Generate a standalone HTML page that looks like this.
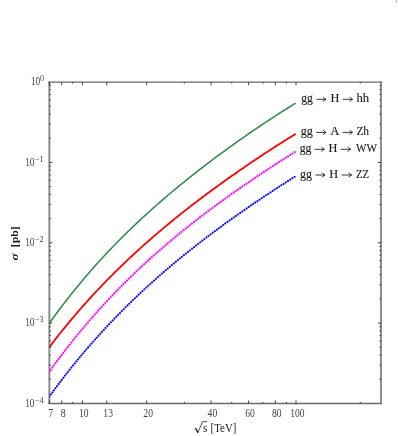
<!DOCTYPE html><html><head><meta charset="utf-8"><style>html,body{margin:0;padding:0;background:#fff}body{width:398px;height:436px;overflow:hidden;font-family:"Liberation Serif",serif}</style></head><body><svg width="398" height="436" viewBox="0 0 398 436" style="display:block;will-change:transform">
<rect width="398" height="436" fill="#fff"/>
<defs><clipPath id="cp"><rect x="49.35" y="82.1" width="331.65" height="321.35"/></clipPath></defs>
<path d="M49.35,81.45 V404.10 M381.0,81.45 V404.10" fill="none" stroke="#888" stroke-width="1.9"/>
<path d="M48.40,82.1 H381.95 M48.40,403.45 H381.95" fill="none" stroke="#6a6a6a" stroke-width="1.35"/>
<path d="M49.35,323.20 L51.42,320.31 L53.49,317.45 L55.56,314.63 L57.63,311.83 L59.70,309.06 L61.77,306.33 L63.84,303.62 L65.91,300.94 L67.98,298.28 L70.05,295.66 L72.12,293.06 L74.19,290.49 L76.26,287.94 L78.33,285.42 L80.40,282.92 L82.47,280.45 L84.54,278.00 L86.61,275.58 L88.68,273.18 L90.75,270.80 L92.82,268.45 L94.89,266.12 L96.96,263.80 L99.03,261.52 L101.10,259.25 L103.17,257.00 L105.24,254.77 L107.31,252.57 L109.38,250.38 L111.46,248.21 L113.53,246.06 L115.60,243.93 L117.67,241.82 L119.74,239.72 L121.81,237.64 L123.88,235.58 L125.95,233.54 L128.02,231.51 L130.09,229.50 L132.16,227.51 L134.23,225.53 L136.30,223.57 L138.37,221.62 L140.44,219.69 L142.51,217.77 L144.58,215.86 L146.65,213.97 L148.72,212.09 L150.79,210.23 L152.86,208.38 L154.93,206.54 L157.00,204.72 L159.07,202.91 L161.14,201.11 L163.21,199.32 L165.28,197.54 L167.35,195.78 L169.42,194.02 L171.49,192.28 L173.56,190.55 L175.63,188.83 L177.70,187.12 L179.77,185.42 L181.84,183.73 L183.91,182.05 L185.98,180.38 L188.05,178.72 L190.12,177.07 L192.19,175.43 L194.26,173.80 L196.33,172.18 L198.40,170.56 L200.47,168.96 L202.54,167.36 L204.61,165.77 L206.68,164.19 L208.75,162.62 L210.82,161.06 L212.89,159.50 L214.96,157.95 L217.03,156.41 L219.10,154.88 L221.17,153.35 L223.24,151.84 L225.31,150.33 L227.38,148.82 L229.45,147.33 L231.52,145.84 L233.59,144.36 L235.67,142.89 L237.74,141.42 L239.81,139.96 L241.88,138.51 L243.95,137.06 L246.02,135.62 L248.09,134.19 L250.16,132.76 L252.23,131.34 L254.30,129.93 L256.37,128.53 L258.44,127.13 L260.51,125.74 L262.58,124.35 L264.65,122.97 L266.72,121.60 L268.79,120.24 L270.86,118.88 L272.93,117.53 L275.00,116.19 L277.07,114.85 L279.14,113.52 L281.21,112.20 L283.28,110.88 L285.35,109.57 L287.42,108.27 L289.49,106.98 L291.56,105.69 L293.63,104.42 L295.70,103.14" fill="none" stroke="#2f8b45" stroke-width="1.55" clip-path="url(#cp)"/>
<path d="M49.35,347.10 L51.42,344.39 L53.49,341.70 L55.56,339.04 L57.63,336.41 L59.70,333.80 L61.77,331.21 L63.84,328.65 L65.91,326.12 L67.98,323.61 L70.05,321.12 L72.12,318.65 L74.19,316.21 L76.26,313.79 L78.33,311.39 L80.40,309.02 L82.47,306.66 L84.54,304.33 L86.61,302.01 L88.68,299.72 L90.75,297.45 L92.82,295.19 L94.89,292.96 L96.96,290.75 L99.03,288.55 L101.10,286.37 L103.17,284.21 L105.24,282.07 L107.31,279.95 L109.38,277.85 L111.46,275.76 L113.53,273.69 L115.60,271.63 L117.67,269.59 L119.74,267.57 L121.81,265.56 L123.88,263.57 L125.95,261.59 L128.02,259.63 L130.09,257.69 L132.16,255.76 L134.23,253.84 L136.30,251.93 L138.37,250.04 L140.44,248.17 L142.51,246.30 L144.58,244.45 L146.65,242.62 L148.72,240.79 L150.79,238.98 L152.86,237.18 L154.93,235.39 L157.00,233.62 L159.07,231.85 L161.14,230.10 L163.21,228.36 L165.28,226.63 L167.35,224.91 L169.42,223.20 L171.49,221.50 L173.56,219.81 L175.63,218.13 L177.70,216.46 L179.77,214.81 L181.84,213.16 L183.91,211.52 L185.98,209.89 L188.05,208.27 L190.12,206.65 L192.19,205.05 L194.26,203.45 L196.33,201.87 L198.40,200.29 L200.47,198.72 L202.54,197.16 L204.61,195.61 L206.68,194.06 L208.75,192.52 L210.82,190.99 L212.89,189.47 L214.96,187.95 L217.03,186.45 L219.10,184.95 L221.17,183.45 L223.24,181.97 L225.31,180.49 L227.38,179.01 L229.45,177.55 L231.52,176.09 L233.59,174.64 L235.67,173.19 L237.74,171.75 L239.81,170.32 L241.88,168.89 L243.95,167.47 L246.02,166.05 L248.09,164.65 L250.16,163.24 L252.23,161.85 L254.30,160.46 L256.37,159.07 L258.44,157.70 L260.51,156.32 L262.58,154.96 L264.65,153.60 L266.72,152.24 L268.79,150.89 L270.86,149.55 L272.93,148.21 L275.00,146.88 L277.07,145.55 L279.14,144.23 L281.21,142.92 L283.28,141.61 L285.35,140.31 L287.42,139.01 L289.49,137.72 L291.56,136.43 L293.63,135.15 L295.70,133.88" fill="none" stroke="#ff0000" stroke-width="1.8" clip-path="url(#cp)"/>
<path d="M49.35,371.67 L51.42,368.79 L53.49,365.93 L55.56,363.11 L57.63,360.31 L59.70,357.54 L61.77,354.80 L63.84,352.09 L65.91,349.40 L67.98,346.74 L70.05,344.11 L72.12,341.50 L74.19,338.91 L76.26,336.35 L78.33,333.82 L80.40,331.31 L82.47,328.82 L84.54,326.36 L86.61,323.92 L88.68,321.50 L90.75,319.11 L92.82,316.73 L94.89,314.38 L96.96,312.05 L99.03,309.75 L101.10,307.46 L103.17,305.19 L105.24,302.95 L107.31,300.72 L109.38,298.52 L111.46,296.33 L113.53,294.16 L115.60,292.01 L117.67,289.88 L119.74,287.77 L121.81,285.68 L123.88,283.60 L125.95,281.54 L128.02,279.50 L130.09,277.47 L132.16,275.47 L134.23,273.47 L136.30,271.50 L138.37,269.54 L140.44,267.59 L142.51,265.66 L144.58,263.75 L146.65,261.85 L148.72,259.97 L150.79,258.10 L152.86,256.24 L154.93,254.40 L157.00,252.57 L159.07,250.75 L161.14,248.95 L163.21,247.16 L165.28,245.38 L167.35,243.62 L169.42,241.87 L171.49,240.13 L173.56,238.40 L175.63,236.68 L177.70,234.98 L179.77,233.28 L181.84,231.60 L183.91,229.93 L185.98,228.26 L188.05,226.61 L190.12,224.97 L192.19,223.34 L194.26,221.72 L196.33,220.11 L198.40,218.51 L200.47,216.92 L202.54,215.33 L204.61,213.76 L206.68,212.19 L208.75,210.64 L210.82,209.09 L212.89,207.55 L214.96,206.02 L217.03,204.50 L219.10,202.98 L221.17,201.47 L223.24,199.97 L225.31,198.48 L227.38,197.00 L229.45,195.52 L231.52,194.05 L233.59,192.59 L235.67,191.13 L237.74,189.68 L239.81,188.24 L241.88,186.80 L243.95,185.37 L246.02,183.95 L248.09,182.53 L250.16,181.12 L252.23,179.72 L254.30,178.32 L256.37,176.92 L258.44,175.54 L260.51,174.15 L262.58,172.78 L264.65,171.41 L266.72,170.04 L268.79,168.68 L270.86,167.33 L272.93,165.98 L275.00,164.64 L277.07,163.30 L279.14,161.96 L281.21,160.63 L283.28,159.31 L285.35,157.99 L287.42,156.68 L289.49,155.37 L291.56,154.06 L293.63,152.76 L295.70,151.47" fill="none" stroke="#ff00ff" stroke-width="2.15" stroke-dasharray="0.01 2.6" stroke-linecap="round" clip-path="url(#cp)"/>
<path d="M49.35,396.59 L51.42,393.74 L53.49,390.91 L55.56,388.11 L57.63,385.34 L59.70,382.60 L61.77,379.88 L63.84,377.19 L65.91,374.52 L67.98,371.88 L70.05,369.27 L72.12,366.68 L74.19,364.11 L76.26,361.57 L78.33,359.05 L80.40,356.55 L82.47,354.08 L84.54,351.63 L86.61,349.20 L88.68,346.80 L90.75,344.41 L92.82,342.05 L94.89,339.71 L96.96,337.39 L99.03,335.09 L101.10,332.81 L103.17,330.55 L105.24,328.31 L107.31,326.09 L109.38,323.89 L111.46,321.70 L113.53,319.54 L115.60,317.39 L117.67,315.26 L119.74,313.15 L121.81,311.06 L123.88,308.98 L125.95,306.92 L128.02,304.88 L130.09,302.86 L132.16,300.85 L134.23,298.85 L136.30,296.87 L138.37,294.91 L140.44,292.96 L142.51,291.03 L144.58,289.11 L146.65,287.20 L148.72,285.31 L150.79,283.44 L152.86,281.57 L154.93,279.73 L157.00,277.89 L159.07,276.07 L161.14,274.26 L163.21,272.46 L165.28,270.67 L167.35,268.90 L169.42,267.14 L171.49,265.39 L173.56,263.66 L175.63,261.93 L177.70,260.21 L179.77,258.51 L181.84,256.82 L183.91,255.14 L185.98,253.46 L188.05,251.80 L190.12,250.15 L192.19,248.51 L194.26,246.88 L196.33,245.26 L198.40,243.64 L200.47,242.04 L202.54,240.44 L204.61,238.86 L206.68,237.28 L208.75,235.71 L210.82,234.16 L212.89,232.60 L214.96,231.06 L217.03,229.53 L219.10,228.00 L221.17,226.48 L223.24,224.97 L225.31,223.46 L227.38,221.97 L229.45,220.48 L231.52,219.00 L233.59,217.52 L235.67,216.05 L237.74,214.59 L239.81,213.14 L241.88,211.69 L243.95,210.25 L246.02,208.81 L248.09,207.38 L250.16,205.96 L252.23,204.55 L254.30,203.13 L256.37,201.73 L258.44,200.33 L260.51,198.94 L262.58,197.55 L264.65,196.17 L266.72,194.79 L268.79,193.42 L270.86,192.06 L272.93,190.70 L275.00,189.34 L277.07,187.99 L279.14,186.65 L281.21,185.31 L283.28,183.98 L285.35,182.65 L287.42,181.32 L289.49,180.01 L291.56,178.69 L293.63,177.38 L295.70,176.08" fill="none" stroke="#0a0aff" stroke-width="2.15" stroke-dasharray="0.01 2.6" stroke-linecap="round" clip-path="url(#cp)"/>
<path d="M49.35,403.45 v-3.0 M49.35,82.1 v3.0 M61.74,403.45 v-3.0 M61.74,82.1 v3.0 M82.43,403.45 v-3.0 M82.43,82.1 v3.0 M106.77,403.45 v-3.0 M106.77,82.1 v3.0 M146.73,403.45 v-3.0 M146.73,82.1 v3.0 M211.02,403.45 v-3.0 M211.02,82.1 v3.0 M248.63,403.45 v-3.0 M248.63,82.1 v3.0 M275.31,403.45 v-3.0 M275.31,82.1 v3.0 M296.01,403.45 v-3.0 M296.01,82.1 v3.0 M72.66,403.45 v-1.5 M72.66,82.1 v1.5 M184.34,403.45 v-1.5 M184.34,82.1 v1.5 M231.72,403.45 v-1.5 M231.72,82.1 v1.5 M262.93,403.45 v-1.5 M262.93,82.1 v1.5 M286.24,403.45 v-1.5 M286.24,82.1 v1.5 M360.30,403.45 v-1.5 M360.30,82.1 v1.5 M49.35,138.25 h1.5 M381.0,138.25 h-1.5 M49.35,124.11 h1.5 M381.0,124.11 h-1.5 M49.35,114.07 h1.5 M381.0,114.07 h-1.5 M49.35,106.28 h1.5 M381.0,106.28 h-1.5 M49.35,99.92 h1.5 M381.0,99.92 h-1.5 M49.35,94.54 h1.5 M381.0,94.54 h-1.5 M49.35,89.89 h1.5 M381.0,89.89 h-1.5 M49.35,85.78 h1.5 M381.0,85.78 h-1.5 M49.35,162.44 h3.0 M381.0,162.44 h-3.0 M49.35,218.59 h1.5 M381.0,218.59 h-1.5 M49.35,204.44 h1.5 M381.0,204.44 h-1.5 M49.35,194.41 h1.5 M381.0,194.41 h-1.5 M49.35,186.62 h1.5 M381.0,186.62 h-1.5 M49.35,180.26 h1.5 M381.0,180.26 h-1.5 M49.35,174.88 h1.5 M381.0,174.88 h-1.5 M49.35,170.22 h1.5 M381.0,170.22 h-1.5 M49.35,166.11 h1.5 M381.0,166.11 h-1.5 M49.35,242.78 h3.0 M381.0,242.78 h-3.0 M49.35,298.93 h1.5 M381.0,298.93 h-1.5 M49.35,284.78 h1.5 M381.0,284.78 h-1.5 M49.35,274.74 h1.5 M381.0,274.74 h-1.5 M49.35,266.96 h1.5 M381.0,266.96 h-1.5 M49.35,260.60 h1.5 M381.0,260.60 h-1.5 M49.35,255.22 h1.5 M381.0,255.22 h-1.5 M49.35,250.56 h1.5 M381.0,250.56 h-1.5 M49.35,246.45 h1.5 M381.0,246.45 h-1.5 M49.35,323.11 h3.0 M381.0,323.11 h-3.0 M49.35,379.27 h1.5 M381.0,379.27 h-1.5 M49.35,365.12 h1.5 M381.0,365.12 h-1.5 M49.35,355.08 h1.5 M381.0,355.08 h-1.5 M49.35,347.30 h1.5 M381.0,347.30 h-1.5 M49.35,340.94 h1.5 M381.0,340.94 h-1.5 M49.35,335.56 h1.5 M381.0,335.56 h-1.5 M49.35,330.90 h1.5 M381.0,330.90 h-1.5 M49.35,326.79 h1.5 M381.0,326.79 h-1.5" fill="none" stroke="#2a2a2a" stroke-width="0.9"/>
<g font-family="'Liberation Serif', serif">
<text x="48.30" y="417.4" font-size="12" fill="#444" textLength="4.9" lengthAdjust="spacingAndGlyphs">7</text>
<text x="60.69" y="417.4" font-size="12" fill="#444" textLength="4.9" lengthAdjust="spacingAndGlyphs">8</text>
<text x="79.03" y="417.4" font-size="12" fill="#444" textLength="9.6" lengthAdjust="spacingAndGlyphs">10</text>
<text x="103.37" y="417.4" font-size="12" fill="#444" textLength="9.6" lengthAdjust="spacingAndGlyphs">13</text>
<text x="143.33" y="417.4" font-size="12" fill="#444" textLength="9.6" lengthAdjust="spacingAndGlyphs">20</text>
<text x="207.62" y="417.4" font-size="12" fill="#444" textLength="9.6" lengthAdjust="spacingAndGlyphs">40</text>
<text x="245.23" y="417.4" font-size="12" fill="#444" textLength="9.6" lengthAdjust="spacingAndGlyphs">60</text>
<text x="271.91" y="417.4" font-size="12" fill="#444" textLength="9.6" lengthAdjust="spacingAndGlyphs">80</text>
<text x="290.26" y="417.4" font-size="12" fill="#444" textLength="14.3" lengthAdjust="spacingAndGlyphs">100</text>
<text x="30.9" y="85.40" font-size="12.3" fill="#444" textLength="9.3" lengthAdjust="spacingAndGlyphs">10</text>
<text x="40.0" y="81.30" font-size="8.5" fill="#444" textLength="4.0" lengthAdjust="spacingAndGlyphs">0</text>
<text x="25.2" y="165.74" font-size="12.3" fill="#444" textLength="9.3" lengthAdjust="spacingAndGlyphs">10</text>
<text x="35.0" y="161.64" font-size="8.5" fill="#444" textLength="8.6" lengthAdjust="spacingAndGlyphs">−1</text>
<text x="25.2" y="246.08" font-size="12.3" fill="#444" textLength="9.3" lengthAdjust="spacingAndGlyphs">10</text>
<text x="35.0" y="241.97" font-size="8.5" fill="#444" textLength="8.6" lengthAdjust="spacingAndGlyphs">−2</text>
<text x="25.2" y="326.41" font-size="12.3" fill="#444" textLength="9.3" lengthAdjust="spacingAndGlyphs">10</text>
<text x="35.0" y="322.31" font-size="8.5" fill="#444" textLength="8.6" lengthAdjust="spacingAndGlyphs">−3</text>
<text x="25.2" y="406.75" font-size="12.3" fill="#444" textLength="9.3" lengthAdjust="spacingAndGlyphs">10</text>
<text x="35.0" y="402.65" font-size="8.5" fill="#444" textLength="8.6" lengthAdjust="spacingAndGlyphs">−4</text>
<path d="M194.7,429.1 L195.9,428.3 L197.9,432.6 L202.5,421.7 H207.2" fill="none" stroke="#222" stroke-width="0.8" stroke-linejoin="miter"/>
<path d="M195.8,428.5 L197.8,432.8" fill="none" stroke="#222" stroke-width="1.3"/>
<text x="202.9" y="431.9" font-size="12.3" fill="#222" textLength="4.4" lengthAdjust="spacingAndGlyphs">s</text>
<text x="210.6" y="431.9" font-size="12.3" fill="#222" textLength="25.8" lengthAdjust="spacingAndGlyphs">[TeV]</text>
<text transform="translate(18.2,260.4) rotate(-90)" font-size="10.5" fill="#1a1a1a" font-weight="bold" font-style="italic" textLength="7.2" lengthAdjust="spacingAndGlyphs">σ</text>
<text transform="translate(17.9,247.2) rotate(-90)" font-size="11.4" fill="#1a1a1a" font-weight="bold" textLength="21" lengthAdjust="spacingAndGlyphs">[pb]</text>
<text x="301.30" y="102.1" font-size="11.5" fill="#222" stroke="#222" stroke-width="0.12" textLength="11.50" lengthAdjust="spacingAndGlyphs">gg</text>
<path d="M316.50,99.3 H325.80 M323.10,96.90 Q324.10,98.80 326.10,99.3 Q324.10,99.80 323.10,101.70" fill="none" stroke="#222" stroke-width="0.9"/>
<text x="330.40" y="102.1" font-size="11.5" fill="#222" stroke="#222" stroke-width="0.12" textLength="8.90" lengthAdjust="spacingAndGlyphs">H</text>
<path d="M342.60,99.3 H352.40 M349.70,96.90 Q350.70,98.80 352.70,99.3 Q350.70,99.80 349.70,101.70" fill="none" stroke="#222" stroke-width="0.9"/>
<text x="356.40" y="102.1" font-size="11.5" fill="#222" stroke="#222" stroke-width="0.12" textLength="12.70" lengthAdjust="spacingAndGlyphs">hh</text>
<text x="300.70" y="135.1" font-size="11.5" fill="#222" stroke="#222" stroke-width="0.12" textLength="12.10" lengthAdjust="spacingAndGlyphs">gg</text>
<path d="M316.10,132.4 H325.80 M323.10,130.00 Q324.10,131.90 326.10,132.4 Q324.10,132.90 323.10,134.80" fill="none" stroke="#222" stroke-width="0.9"/>
<text x="330.30" y="135.1" font-size="11.5" fill="#222" stroke="#222" stroke-width="0.12" textLength="9.20" lengthAdjust="spacingAndGlyphs">A</text>
<path d="M342.60,132.4 H352.40 M349.70,130.00 Q350.70,131.90 352.70,132.4 Q350.70,132.90 349.70,134.80" fill="none" stroke="#222" stroke-width="0.9"/>
<text x="356.40" y="135.1" font-size="11.5" fill="#222" stroke="#222" stroke-width="0.12" textLength="12.70" lengthAdjust="spacingAndGlyphs">Zh</text>
<text x="299.70" y="152.1" font-size="11.5" fill="#222" stroke="#222" stroke-width="0.12" textLength="11.70" lengthAdjust="spacingAndGlyphs">gg</text>
<path d="M314.70,149.3 H324.20 M321.50,146.90 Q322.50,148.80 324.50,149.3 Q322.50,149.80 321.50,151.70" fill="none" stroke="#222" stroke-width="0.9"/>
<text x="328.60" y="152.1" font-size="11.5" fill="#222" stroke="#222" stroke-width="0.12" textLength="8.90" lengthAdjust="spacingAndGlyphs">H</text>
<path d="M340.60,149.3 H350.40 M347.70,146.90 Q348.70,148.80 350.70,149.3 Q348.70,149.80 347.70,151.70" fill="none" stroke="#222" stroke-width="0.9"/>
<text x="356.00" y="152.1" font-size="11.5" fill="#222" stroke="#222" stroke-width="0.12" textLength="21.10" lengthAdjust="spacingAndGlyphs">WW</text>
<text x="300.10" y="177.7" font-size="11.5" fill="#222" stroke="#222" stroke-width="0.12" textLength="11.90" lengthAdjust="spacingAndGlyphs">gg</text>
<path d="M315.50,175.0 H324.80 M322.10,172.60 Q323.10,174.50 325.10,175.0 Q323.10,175.50 322.10,177.40" fill="none" stroke="#222" stroke-width="0.9"/>
<text x="329.20" y="177.7" font-size="11.5" fill="#222" stroke="#222" stroke-width="0.12" textLength="8.90" lengthAdjust="spacingAndGlyphs">H</text>
<path d="M341.60,175.0 H351.40 M348.70,172.60 Q349.70,174.50 351.70,175.0 Q349.70,175.50 348.70,177.40" fill="none" stroke="#222" stroke-width="0.9"/>
<text x="356.00" y="177.7" font-size="11.5" fill="#222" stroke="#222" stroke-width="0.12" textLength="13.10" lengthAdjust="spacingAndGlyphs">ZZ</text>
</g>
<circle cx="396.4" cy="1.5" r="0.7" fill="#8a8a8a"/>
</svg></body></html>
